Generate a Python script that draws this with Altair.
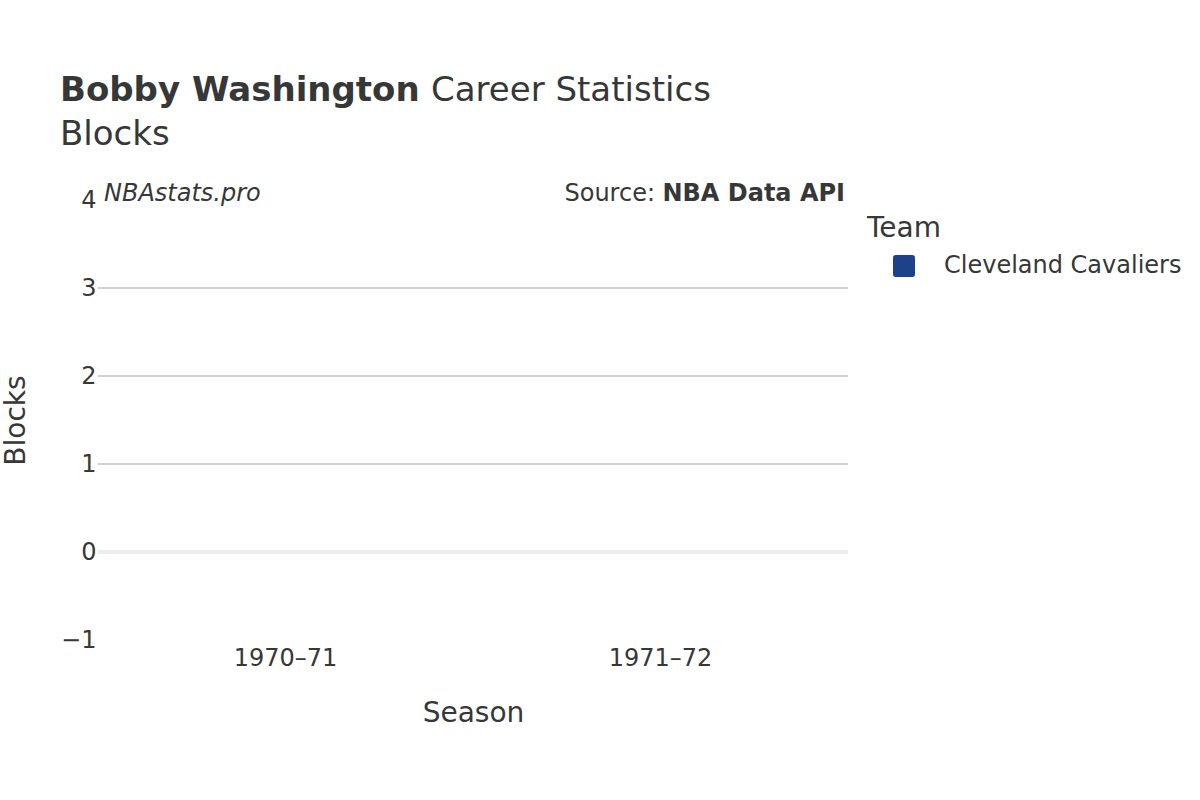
import altair as alt
import pandas as pd

seasons = ["1970–71", "1971–72"]
teams = ["Cleveland Cavaliers", "Cleveland Cavaliers"]
blocks = [0, 0]
team_colors = {"Cleveland Cavaliers": "#1d428a"}
grid_values = [1, 2, 3]

df = pd.DataFrame({"Season": seasons, "Team": teams, "Blocks": blocks})
grid_df = pd.DataFrame({"Blocks": grid_values})
zero_df = pd.DataFrame({"Blocks": [0]})

FONT = "DejaVu Sans"
TXT = "#363838"
ROUNDED = ("M -0.75,-1 L 0.75,-1 Q 1,-1 1,-0.75 L 1,0.75 Q 1,1 0.75,1 L -0.75,1 "
           "Q -1,1 -1,0.75 L -1,-0.75 Q -1,-1 -0.75,-1 Z")

Y_SCALE = alt.Scale(domain=[-1, 4], nice=False)
Y_AXIS = alt.Axis(values=[-1, 0, 1, 2, 3, 4], title="Blocks", grid=False, ticks=False,
                  domain=False, labelFontSize=24, titleFontSize=28, labelPadding=2,
                  titlePadding=30, labelColor=TXT, titleColor=TXT, labelFont=FONT,
                  titleFont=FONT, titleFontWeight="normal", format="d")

bars = alt.Chart(df).mark_bar().encode(
    x=alt.X("Season:N", sort=seasons, scale=alt.Scale(paddingInner=0.2, paddingOuter=0.1),
            axis=alt.Axis(labelAngle=0, title="Season", labelPadding=6, titlePadding=29,
                          ticks=False, domain=False, labelFontSize=24, titleFontSize=28,
                          labelColor=TXT, titleColor=TXT, labelFont=FONT, titleFont=FONT,
                          titleFontWeight="normal")),
    y=alt.Y("Blocks:Q", scale=Y_SCALE, axis=Y_AXIS),
    color=alt.Color("Team:N", scale=alt.Scale(domain=list(team_colors.keys()),
                                              range=list(team_colors.values())),
                    legend=alt.Legend(title="Team", orient="none", legendX=769, legendY=15,
                                      symbolType=ROUNDED, symbolSize=484, titleFontSize=28,
                                      labelFontSize=24, titleColor=TXT, labelColor=TXT,
                                      titleFont=FONT, labelFont=FONT, titleFontWeight="normal",
                                      labelOffset=28, titlePadding=11, symbolStrokeWidth=0,
                                      symbolOpacity=1, symbolOffset=25, labelLimit=0)),
)

grid = alt.Chart(grid_df).mark_rule(color="#c0c0c0", strokeWidth=1.5).encode(
    y=alt.Y("Blocks:Q", scale=Y_SCALE, axis=Y_AXIS))
zero = alt.Chart(zero_df).mark_rule(color="#ececec", strokeWidth=4).encode(
    y=alt.Y("Blocks:Q", scale=Y_SCALE, axis=Y_AXIS))

def label(text, x, y, size, weight="normal", style="normal", align="left"):
    return alt.Chart(pd.DataFrame({"t": [text]})).mark_text(
        align=align, baseline="alphabetic", fontSize=size, fontWeight=weight, fontStyle=style,
        font=FONT, color=TXT
    ).encode(x=alt.value(x), y=alt.value(y), text="t:N")

t1 = label("Bobby Washington", -38, -99, 34, weight="bold")
t2 = label("Career Statistics", 333, -99, 34)
t3 = label("Blocks", -38, -55, 34)
w = label("NBAstats.pro", 6, 1, 24, style="italic")
s1 = label("Source:", 557, 1, 24, align="right")
s2 = label("NBA Data API", 747, 1, 24, weight="bold", align="right")

chart = alt.layer(grid, zero, bars, t1, t2, t3, w, s1, s2).properties(
    width=750, height=440,
    autosize=alt.AutoSizeParams(type="none"),
    padding={"left": 98, "top": 200, "right": 352, "bottom": 160},
).configure(background="white").configure_view(strokeWidth=0, stroke=None)

chart.save("out.html", embed_options={"renderer": "svg", "actions": False})
